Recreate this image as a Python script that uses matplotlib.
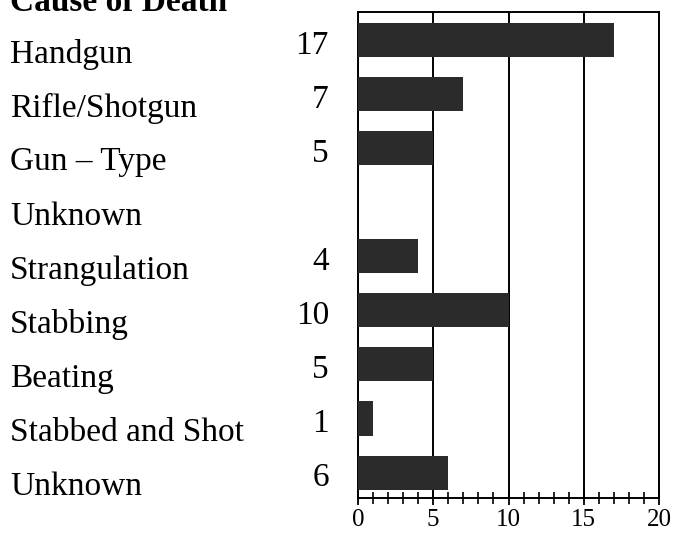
import numpy as np
import matplotlib
matplotlib.use('Agg')
import matplotlib.pyplot as plt
from matplotlib.transforms import blended_transform_factory

# ════════════════════════════════════════════════════════════════
#  DATA
# ════════════════════════════════════════════════════════════════
categories = ["Handgun", "Rifle/Shotgun", "Gun – Type\nUnknown", "Strangulation",
              "Stabbing", "Beating", "Stabbed and Shot", "Unknown"]
counts = [17, 7, 5, 4, 10, 5, 1, 6]
x_ticks = [0, 5, 10, 15, 20]

TITLE = "Cause of Death"
FONT = "Liberation Serif"
BAR_COLOR = "#2b2b2b"

# row position of each category (two-line label takes an extra row)
rows = []
r = 0
for c in categories:
    rows.append(r)
    r += c.count("\n") + 1

# ════════════════════════════════════════════════════════════════
#  FIGURE
# ════════════════════════════════════════════════════════════════
fig = plt.figure(figsize=(6.78, 5.33), dpi=100)
ax = fig.add_axes([0.528, 0.0657, 0.444, 0.912])

ax.barh(rows, counts, height=0.63, color=BAR_COLOR, zorder=3)

ax.set_xlim(0, 20)
ax.set_ylim(8.47, -0.52)
ax.set_yticks([])
ax.set_xticks(x_ticks)
ax.set_xticks(np.arange(0, 21, 1), minor=True)
ax.tick_params(axis="x", which="major", direction="inout", length=10, width=1.3, pad=3)
ax.tick_params(axis="x", which="minor", direction="inout", length=8, width=1.2)
ax.set_xticklabels([str(t) for t in x_ticks], fontfamily=FONT, fontsize=18)
ax.xaxis.grid(True, which="major", color="black", linewidth=1.4, zorder=1)
for s in ax.spines.values():
    s.set_linewidth(1.4)

# category names and counts on the left
trans = blended_transform_factory(fig.transFigure, ax.transData)
for name, val, y in zip(categories, counts, rows):
    for k, line in enumerate(name.split("\n")):
        ax.text(10 / 678, y + k + 0.26, line, transform=trans, ha="left", va="center",
                fontfamily=FONT, fontsize=24, clip_on=False)
    ax.text(329 / 678, y + 0.1, str(val), transform=trans, ha="right", va="center",
            fontfamily=FONT, fontsize=24, clip_on=False)

fig.text(10 / 678, 1 - 11 / 533, TITLE, ha="left", va="baseline",
         fontfamily=FONT, fontsize=24, fontweight="bold")

fig.savefig("out.png", dpi=100)
